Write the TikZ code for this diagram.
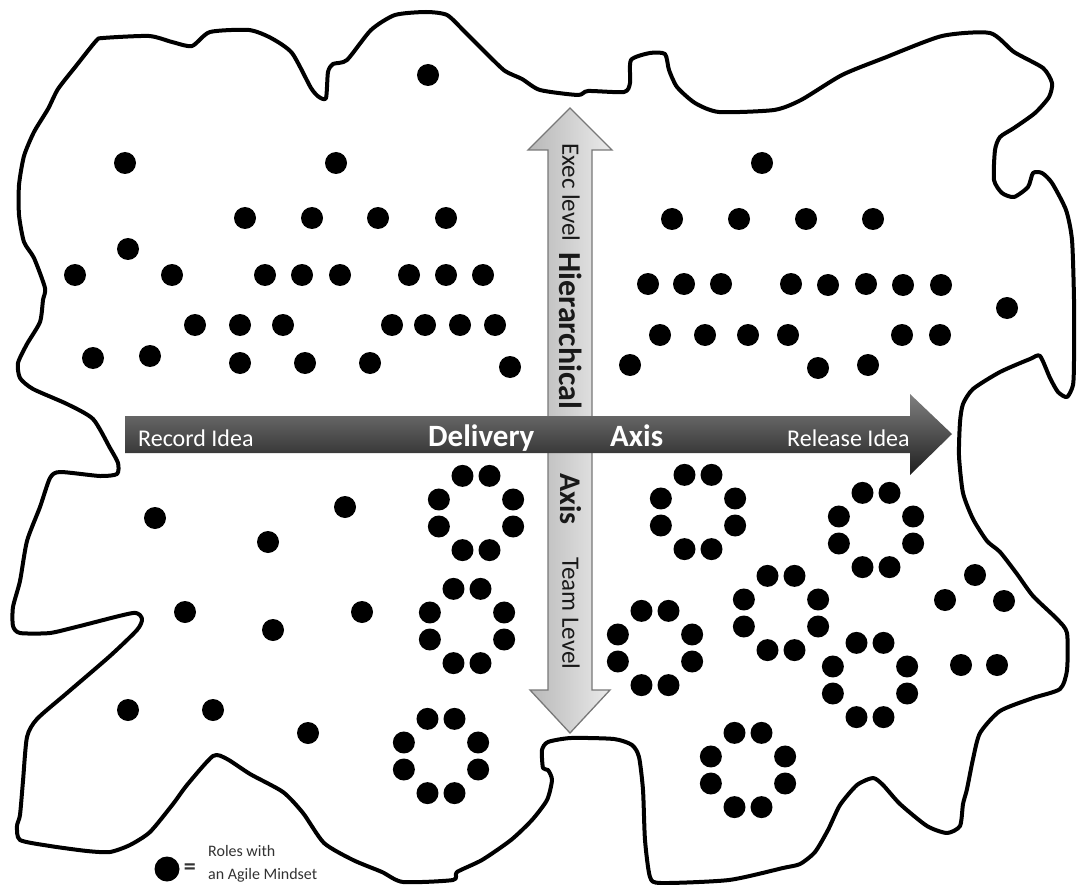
\documentclass[tikz,border=0pt]{standalone}
\usepackage{fontspec}
\setmainfont{Carlito}
\usetikzlibrary{positioning}
\definecolor{shaftgray}{RGB}{120,120,120}
\definecolor{legtext}{RGB}{50,50,50}
\begin{document}
\begin{tikzpicture}[x=1pt,y=-1pt,
  role/.style={circle,fill=black,inner sep=0pt,minimum size=22pt},
  hlabel/.style={text=white,inner sep=0pt,anchor=base west,font=\fontsize{24}{28}\selectfont},
  hbold/.style={hlabel,font=\fontsize{31}{34}\selectfont\bfseries},
  vlabel/.style={text=black!90,inner sep=0pt,anchor=west,rotate=-90,font=\fontsize{25}{30}\selectfont},
  vbold/.style={vlabel,font=\fontsize{32}{36}\selectfont\bfseries}]
\useasboundingbox (0,0) rectangle (1078,885);
%Outline
\draw[line width=4pt,line join=round] plot[smooth cycle,tension=0.4] coordinates {
 (96,41) (103,38) (149,36) (172,42) (192,46) (210,32) (249,30) (271,38) (292,53) (311,88)
 (319,97) (326,98) (328,72) (333,64) (347,60) (371,30) (395,15) (426,12) (447,15) (464,31)
 (488,55) (505,71) (522,79) (540,90) (578,95) (588,91) (624,92) (630,83) (631,60) (650,53)
 (665,54) (669,70) (677,87) (695,103) (719,112) (774,110) (801,100) (842,75) (884,58) (942,36)
 (990,33) (1014,52) (1043,68) (1052,83) (1049,97) (1035,113) (1014,128) (1000,137) (995,150) (994,180)
 (1002,193) (1014,197) (1028,187) (1033,173) (1042,173) (1052,183) (1066,210) (1072,240) (1074,300) (1074,360)
 (1073,385) (1067,397) (1058,392) (1050,378) (1040,356) (1030,359) (1000,372) (973,389) (963,404) (960,422)
 (959,456) (963,493) (973,519) (987,541) (1000,552) (1017,574) (1033,596) (1057,619) (1067,633) (1067,670)
 (1060,689) (1033,698) (1000,711) (980,733) (973,759) (967,789) (963,804) (960,826) (947,833) (927,826)
 (900,804) (883,785) (873,778) (857,785) (840,805) (828,830) (815,852) (800,864) (783,868) (729,880)
 (661,883) (650,877) (645,840) (643,790) (639,757) (632,745) (614,739) (571,738) (548,742) (542,750)
 (543,768) (548,770) (552,780) (547,800) (532,820) (511,840) (482,860) (457,872) (453,880) (403,882)
 (382,872) (353,860) (324,843) (303,813) (283,792) (250,774) (227,759) (213,756) (187,785) (173,804)
 (150,832) (130,845) (110,852) (87,851) (50,846) (20,840) (17,826) (20,815) (23,781) (27,737)
 (37,719) (67,693) (110,656) (137,630) (142,619) (133,613) (80,626) (50,633) (20,633) (13,626)
 (13,607) (20,581) (27,541) (40,507) (50,478) (60,472) (100,476) (117,474) (118,463) (110,448)
 (93,419) (67,404) (33,389) (20,378) (18,363) (27,344) (40,322) (43,300) (45,288) (34,258)
 (24,242) (19,215) (19,185) (24,156) (34,132) (48,109) (58,89) (76,66)};
%Single roles
\foreach \x/\y [count=\i] in {428/75,125/163,336/163,245/218,312/218,378/218,446/218,128/249,
  75/275,172/275,265/275,302/275,340/275,409/275,446/275,483/275,
  195/325,240/325,283/325,392/325,425/325,460/325,495/325,
  93/358,150/356,240/363,305/363,370/363,510/367,
  762/163,672/219,739/219,806/219,873/219,
  648/284,684/284,721/284,791/284,828/285,866/284,903/285,941/285,
  660/335,705/335,748/335,788/335,902/335,940/335,1007/308,630/365,818/368,868/365,
  155/518,268/542,345/507,185/612,273/630,362/612,128/710,213/710,308/733,
  975/575,945/600,1004/601,961/665,997/665}
  \node[role] (s\i) at (\x,\y) {};
%Teams
\foreach \cx/\cy [count=\k] in {476/513,467/626,441/756,698/512,876/530,781/613,655/648,870/680,748/770}
  \foreach \a [count=\j] in {20,70,110,160,200,250,290,340}
    \node[role] (t\k-\j) at ([shift={(\cx,\cy)}]\a:39.5) {};
%Hierarchical axis
\path[draw=shaftgray,line width=1.3pt,left color=black!28,right color=black!8]
  (548,150) -- (528,150) -- (570,108) -- (612,150) -- (592,150) -- (592,690)
  -- (610,690) -- (570,733) -- (530,690) -- (548,690) -- cycle;
%Delivery axis
\path[top color=black!50,bottom color=black!88]
  (125,416) -- (910,416) -- (910,394) -- (952,434) -- (910,475) -- (910,453) -- (125,453) -- cycle;
% Text Node
\node[hlabel] (record) at (138,446) {Record Idea};
\node[hbold] (delivery) at (428,446) {Delivery};
\node[hbold] (axis) at (610,446) {Axis};
\node[hlabel] (release) at (787,446) {Release Idea};
\node[vlabel] (exec) at (571,143) {Exec level};
\node[vbold] (hier) at (571,252) {Hierarchical};
\node[vbold,font=\fontsize{30}{34}\selectfont\bfseries] (vaxis) at (571,473) {Axis};
\node[vlabel] (team) at (571,557) {Team Level};
%Legend
\node[role,minimum size=25pt] (legdot) at (167,869) {};
\node[text=legtext,inner sep=0pt,font=\fontsize{24}{24}\selectfont\bfseries,right=4pt of legdot] (equals) {=};
\node[text=legtext,inner sep=0pt,anchor=west,align=left,font=\fontsize{16}{23}\selectfont] (legend) at (208,864) {Roles with\\an Agile Mindset};
\end{tikzpicture}
\end{document}
